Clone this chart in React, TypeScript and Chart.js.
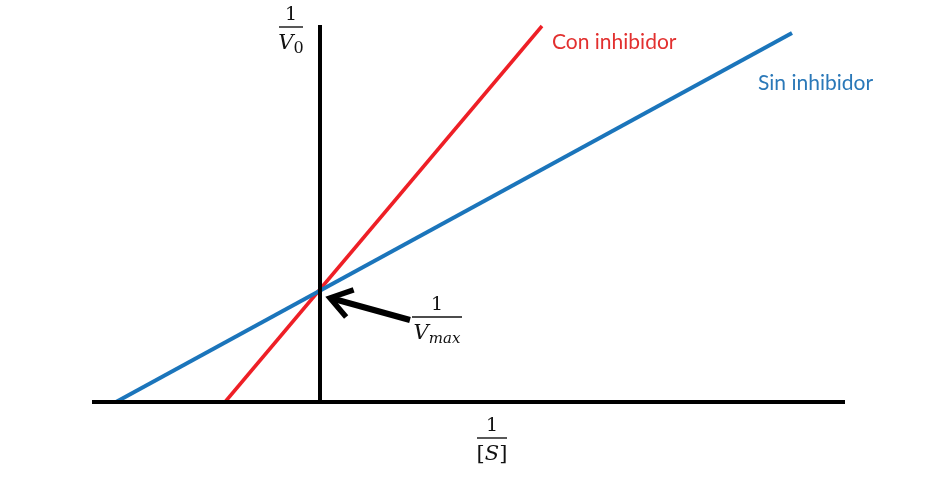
import React, { useEffect, useRef } from "react";
import { Chart, registerables } from "chart.js";

Chart.register(...registerables);

// Lineweaver-Burk plot: x = 1/[S], y = 1/V0 (arbitrary units)
const sinInhibidorX = [-2.04, 4.72];
const sinInhibidorY = [0, 3.69];
const conInhibidorX = [-0.95, 2.22];
const conInhibidorY = [0, 3.76];
const ejeHorizontalX = [-2.28, 5.25];
const ejeHorizontalY = [0, 0];
const ejeVerticalX = [0, 0];
const ejeVerticalY = [0, 3.77];
const seriesLabels = ["Con inhibidor", "Sin inhibidor"];

const pts = (xs: number[], ys: number[]) => xs.map((x, i) => ({ x, y: ys[i] }));

const RED = "#ee1f26";
const BLUE = "#1b75bb";

const annotationPlugin = {
  id: "annotations",
  afterDatasetsDraw(chart: any) {
    const ctx = chart.ctx as CanvasRenderingContext2D;
    const xs = chart.scales.x;
    const ys = chart.scales.y;
    const px = (v: number) => xs.getPixelForValue(v);
    const py = (v: number) => ys.getPixelForValue(v);
    ctx.save();

    // series labels
    ctx.font = "21px Lato";
    ctx.textBaseline = "middle";
    ctx.textAlign = "left";
    ctx.fillStyle = "#e2302f";
    ctx.fillText(seriesLabels[0], px(2.32), py(3.6));
    ctx.fillStyle = "#2a78b8";
    ctx.fillText(seriesLabels[1], px(4.38), py(3.19));

    const serif = "'DejaVu Serif'";
    const fraction = (
      cxv: number,
      barYv: number,
      halfW: number,
      denom: { t: string; font: string; dy: number }[]
    ) => {
      const cx = px(cxv);
      const by = py(barYv);
      ctx.fillStyle = "#111";
      ctx.strokeStyle = "#111";
      ctx.lineWidth = 1.4;
      ctx.beginPath();
      ctx.moveTo(cx - halfW, by);
      ctx.lineTo(cx + halfW, by);
      ctx.stroke();
      ctx.textAlign = "center";
      ctx.textBaseline = "alphabetic";
      ctx.font = `19px ${serif}`;
      ctx.fillText("1", cx, by - 7);
      let total = 0;
      for (const d of denom) {
        ctx.font = d.font;
        total += ctx.measureText(d.t).width;
      }
      let x = cx - total / 2;
      ctx.textAlign = "left";
      for (const d of denom) {
        ctx.font = d.font;
        ctx.fillText(d.t, x, by + 22 + d.dy);
        x += ctx.measureText(d.t).width;
      }
    };

    fraction(-0.29, 3.75, 12, [
      { t: "V", font: `italic 21px ${serif}`, dy: 0 },
      { t: "0", font: `16px ${serif}`, dy: 4 },
    ]);
    fraction(1.17, 0.85, 25, [
      { t: "V", font: `italic 21px ${serif}`, dy: 0 },
      { t: "max", font: `italic 15px ${serif}`, dy: 4 },
    ]);
    fraction(1.72, -0.36, 15, [
      { t: "[", font: `21px ${serif}`, dy: 0 },
      { t: "S", font: `italic 21px ${serif}`, dy: 0 },
      { t: "]", font: `21px ${serif}`, dy: 0 },
    ]);

    // arrow pointing to 1/Vmax
    const tipX = px(0.1), tipY = py(1.04);
    const tailX = px(0.9), tailY = py(0.82);
    ctx.strokeStyle = "#000";
    ctx.lineWidth = 6;
    ctx.lineCap = "butt";
    ctx.lineJoin = "miter";
    ctx.beginPath();
    ctx.moveTo(tailX, tailY);
    ctx.lineTo(tipX + 4, tipY + 1);
    ctx.stroke();
    const ang = Math.atan2(tailY - tipY, tailX - tipX);
    const len = 25;
    ctx.lineWidth = 5.5;
    ctx.beginPath();
    ctx.moveTo(tipX + len * Math.cos(ang - 0.6), tipY + len * Math.sin(ang - 0.6));
    ctx.lineTo(tipX, tipY);
    ctx.lineTo(tipX + len * Math.cos(ang + 0.6), tipY + len * Math.sin(ang + 0.6));
    ctx.stroke();

    ctx.restore();
  },
};

export default function App() {
  const ref = useRef<HTMLCanvasElement | null>(null);
  useEffect(() => {
    document.body.style.margin = "0";
    const canvas = ref.current!;
    const chart = new Chart(canvas, {
      type: "line",
      data: {
        datasets: [
          { label: "eje x", data: pts(ejeHorizontalX, ejeHorizontalY), borderColor: "#000", borderWidth: 4, pointRadius: 0 },
          { label: "eje y", data: pts(ejeVerticalX, ejeVerticalY), borderColor: "#000", borderWidth: 4, pointRadius: 0 },
          { label: seriesLabels[1], data: pts(sinInhibidorX, sinInhibidorY), borderColor: BLUE, borderWidth: 4, pointRadius: 0 },
          { label: seriesLabels[0], data: pts(conInhibidorX, conInhibidorY), borderColor: RED, borderWidth: 3.5, pointRadius: 0 },
        ],
      },
      options: {
        responsive: false,
        animation: false,
        devicePixelRatio: 1,
        layout: { padding: 0 },
        parsing: false,
        scales: {
          x: { type: "linear", min: -3.2, max: 6.14, display: false },
          y: { type: "linear", min: -0.98, max: 4.02, display: false },
        },
        plugins: { legend: { display: false }, tooltip: { enabled: false } },
      } as any,
      plugins: [annotationPlugin],
    });
    return () => chart.destroy();
  }, []);
  return (
    <div style={{ width: 934, height: 500, background: "#fff" }}>
      <canvas ref={ref} width={934} height={500} style={{ display: "block" }} />
    </div>
  );
}
